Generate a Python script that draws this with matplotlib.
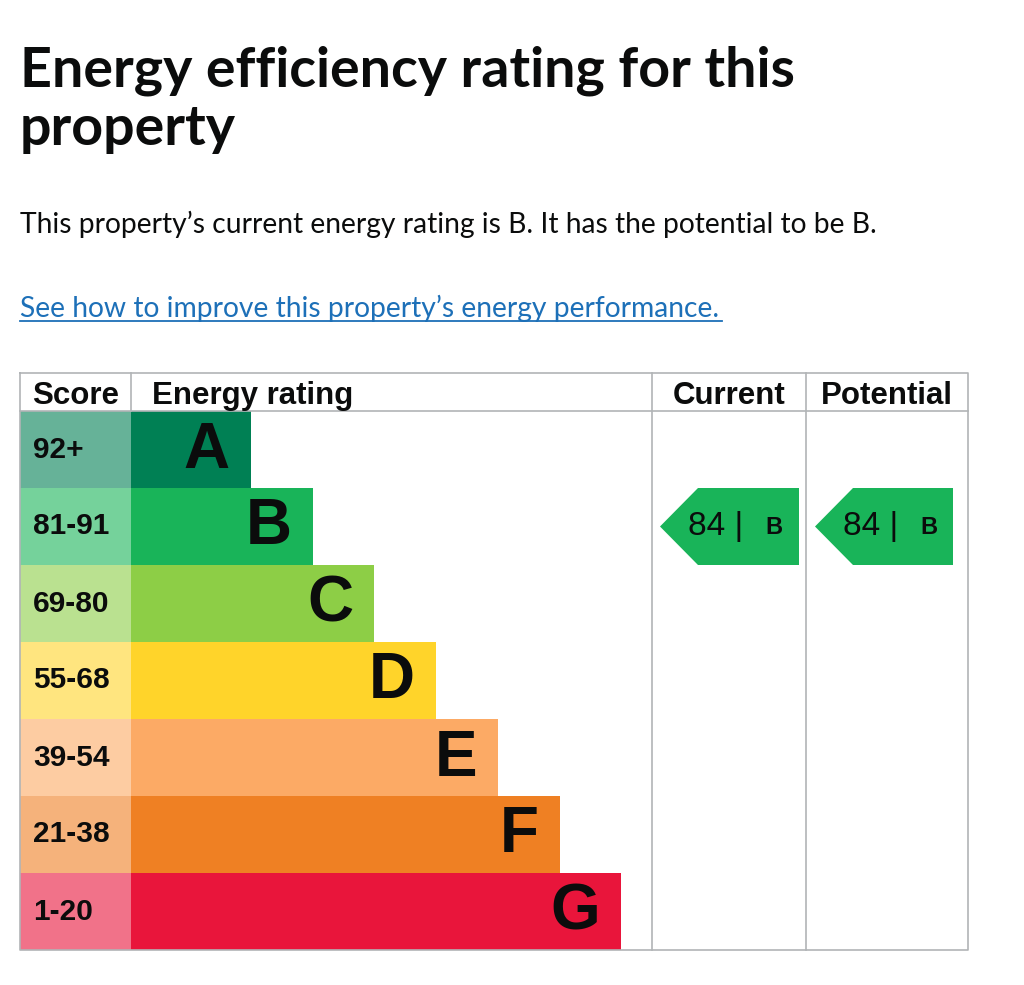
import matplotlib
matplotlib.use("Agg")
import matplotlib.pyplot as plt

# chart data
letters = ["A", "B", "C", "D", "E", "F", "G"]
score_ranges = ["92+", "81-91", "69-80", "55-68", "39-54", "21-38", "1-20"]
band_colours = ["#008054", "#19b459", "#8dce46", "#ffd42a", "#fcaa65", "#ef8023", "#e9153b"]
current_score = 84
current_letter = "B"
potential_score = 84
potential_letter = "B"

title_lines = ["Energy efficiency rating for this", "property"]
summary = "This property\u2019s current energy rating is B. It has the potential to be B."
link_text = "See how to improve this property\u2019s energy performance."

W, H = 1024, 985
fig = plt.figure(figsize=(W / 100, H / 100), dpi=100)
ax = fig.add_axes([0, 0, 1, 1])
ax.set_xlim(0, W)
ax.set_ylim(H, 0)
ax.axis("off")

ink = "#0b0c0c"
grid = "#b1b4b6"
table_font = "Liberation Sans"
page_font = "Lato"

fig.canvas.draw()
renderer = fig.canvas.get_renderer()


def fit_size(s, target_w, fs, **kw):
    # font size at which s spans target_w pixels
    probe = ax.text(0, 0, s, fontsize=fs, **kw)
    w = probe.get_window_extent(renderer).width
    probe.remove()
    return fs * target_w / w


title_fs = fit_size(title_lines[0], 773, 39, family=page_font, fontweight="bold")
ax.text(20, 86, title_lines[0], fontsize=title_fs, family=page_font,
        fontweight="bold", color=ink, va="baseline")
ax.text(20, 145, title_lines[1], fontsize=title_fs, family=page_font,
        fontweight="bold", color=ink, va="baseline")

fs = fit_size(summary, 860, 20, family=page_font)
ax.text(20, 233, summary, fontsize=fs, family=page_font, color=ink, va="baseline")
fs = fit_size(link_text, 702, 20, family=page_font)
ax.text(20, 317, link_text, fontsize=fs, family=page_font, color="#1d70b8",
        va="baseline")
ax.plot([20, 722], [321, 321], color="#1d70b8", lw=1.3)

# table geometry
left, score_right, cur_left, pot_left, right = 20, 130.5, 652, 806, 968
top, head_bottom, row_h = 373, 411, 77
n = len(letters)
bottom = head_bottom + row_h * n
centres = [head_bottom + row_h * (i + 0.5) for i in range(n)]
bar_start = 131
bar_widths = [120 + 61.7 * i for i in range(n)]

# score cells and rating bars
ax.barh(centres, [score_right - left] * n, left=left, height=row_h,
        color=band_colours, alpha=0.6, linewidth=0)
ax.barh(centres, bar_widths, left=bar_start, height=row_h,
        color=band_colours, linewidth=0)

for i in range(n):
    ax.text(33, centres[i], score_ranges[i], family=table_font, fontweight="bold",
            fontsize=21.5, color=ink, va="center", ha="left")
    ax.text(bar_start + bar_widths[i] - 21, centres[i] + 1, letters[i],
            family=table_font, fontweight="bold", fontsize=46, color=ink,
            va="center", ha="right")

# grid lines
lw = 1.2
ax.plot([left, right, right, left, left], [top, top, bottom, bottom, top],
        color=grid, lw=lw)
ax.plot([left, right], [head_bottom, head_bottom], color=grid, lw=lw)
ax.plot([score_right, score_right], [top, head_bottom], color=grid, lw=lw)
ax.plot([cur_left, cur_left], [top, bottom], color=grid, lw=lw)
ax.plot([pot_left, pot_left], [top, bottom], color=grid, lw=lw)

# header
head_y = 396
head_kw = dict(family=table_font, fontweight="bold", fontsize=22.5, color=ink,
               va="center")
ax.text((left + score_right) / 2, head_y, "Score", ha="center", **head_kw)
ax.text(152, head_y, "Energy rating", ha="left", **head_kw)
ax.text((cur_left + pot_left) / 2, head_y, "Current", ha="center", **head_kw)
ax.text((pot_left + right) / 2, head_y, "Potential", ha="center", **head_kw)


def rating_arrow(x0, x1, score, letter):
    i = letters.index(letter)
    y0 = head_bottom + row_h * i
    y1 = y0 + row_h
    tip = 38
    ax.fill([x0, x0 + tip, x1, x1, x0 + tip], [(y0 + y1) / 2, y0, y0, y1, y1],
            color=band_colours[i], linewidth=0)
    yc = (y0 + y1) / 2
    ax.text(x0 + 28, yc, f"{score} |", family=table_font, fontsize=24,
            color=ink, va="center", ha="left")
    ax.text(x0 + 105, yc + 1, letter, family=table_font, fontweight="bold",
            fontsize=17, color=ink, va="center", ha="left")


rating_arrow(660, 799, current_score, current_letter)
rating_arrow(815, 953, potential_score, potential_letter)

fig.savefig("out.png", dpi=100, facecolor="white")
